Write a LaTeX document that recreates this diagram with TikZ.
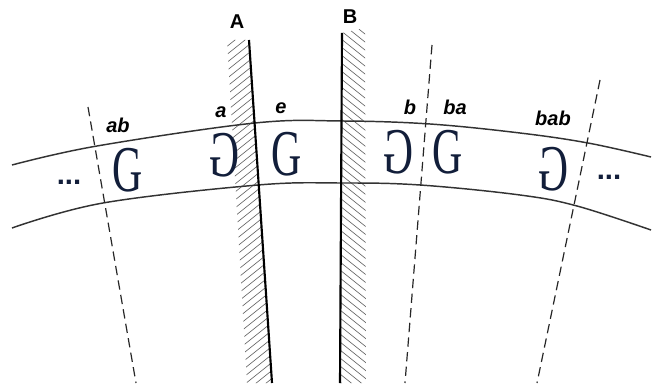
\documentclass[tikz,border=0pt]{standalone}
\usepackage{fontspec}
\setsansfont{Liberation Sans}
\newfontfamily\glyphfont{Liberation Serif}
\usetikzlibrary{calc}

\definecolor{inkblue}{RGB}{18,30,58}

\begin{document}
\begin{tikzpicture}[
            x={(0.75pt,0pt)},
            y={(0pt,-0.75pt)},
            wall/.style={line width=1.6pt, black},
            hatch/.style={line width=0.5pt, black!60},
            rim/.style={line width=1.1pt, black!80},
            cut/.style={line width=0.9pt, black!85, dash pattern=on 7pt off 4pt},
            tag/.style={font=\sffamily\bfseries\itshape\fontsize{15}{15}\selectfont, inner sep=0pt},
            wallname/.style={font=\sffamily\bfseries\fontsize{15}{15}\selectfont, inner sep=0pt},
            letter/.style={font=\glyphfont\fontsize{49}{49}\selectfont, text=inkblue, inner sep=0pt},
            dots/.style={font=\sffamily\bfseries\fontsize{22}{22}\selectfont, text=inkblue, inner sep=0pt}
        ]
            \useasboundingbox (0,0) rectangle (655,391);

            % --- Definitions ---
            \def\gx{0.64} % squeeze of the letters

            % --- Mirror coordinates ---
            \coordinate (A1) at (249,40);
            \coordinate (A2) at (272,383);
            \coordinate (B1) at (342,33);
            \coordinate (B2) at (340,383);

            % --- Dashed cuts ---
            \coordinate (C1) at (88,107);
            \coordinate (C2) at (136,383);
            \coordinate (D1) at (432,45);
            \coordinate (D2) at (405,383);
            \coordinate (E1) at (600,80);
            \coordinate (E2) at (537,383);

            % --- 1. Hatching behind the mirrors ---
            \begin{scope}
                \clip (227,40) -- (A1) -- (A2) -- (247,383) -- cycle;
                \foreach \k in {0,...,55}
                    \draw[hatch] (215,40+8*\k) -- (285,40+8*\k-56);
            \end{scope}
            \begin{scope}
                \clip (B1) -- (365,28) -- (366,383) -- (B2) -- cycle;
                \foreach \k in {0,...,55}
                    \draw[hatch] (335,-30+8*\k) -- (375,-30+8*\k+32);
            \end{scope}

            % --- 2. Strip edges ---
            \draw[rim] plot[smooth, tension=0.6] coordinates
                {(12,165) (97,146) (255,123) (342,121) (430,124) (520,133) (588,143) (651,157)};
            \draw[rim] plot[smooth, tension=0.6] coordinates
                {(12,228) (103,203) (258,185) (342,183) (420,185) (520,195) (577,206) (651,230)};

            % --- 3. Cuts ---
            \draw[cut] (C1) -- (C2);
            \draw[cut] (D1) -- (D2);
            \draw[cut] (E1) -- (E2);

            % --- 4. Mirrors ---
            \draw[wall] (A1) -- (A2);
            \draw[wall] (B1) -- (B2);
            \node[wallname] (labA) at (237,22) {A};
            \node[wallname] (labB) at (350,17) {B};

            % --- 5. Letters ---
            \node[letter] (gab)  at (128,170) {\scalebox{\gx}[1]{G}};
            \node[letter] (ga)   at (224,155) {\scalebox{-\gx}[1]{G}};
            \node[letter] (ge)   at (287,154) {\scalebox{\gx}[1]{G}};
            \node[letter] (gb)   at (398,152) {\scalebox{-\gx}[1]{G}};
            \node[letter] (gba)  at (448,152) {\scalebox{\gx}[1]{G}};
            \node[letter] (gbab) at (553,169) {\scalebox{-\gx}[1]{G}};
            \node[dots] (dotsL) at (69,182) {...};
            \node[dots] (dotsR) at (609,177) {...};

            % --- 6. Group elements ---
            \node[tag] (tab)  at (118,125) {ab};
            \node[tag] (ta)   at (221,112) {a};
            \node[tag] (te)   at (281,108) {e};
            \node[tag] (tb)   at (410,107) {b};
            \node[tag] (tba)  at (455,107) {ba};
            \node[tag] (tbab) at (553,118) {bab};

        \end{tikzpicture}
\end{document}
